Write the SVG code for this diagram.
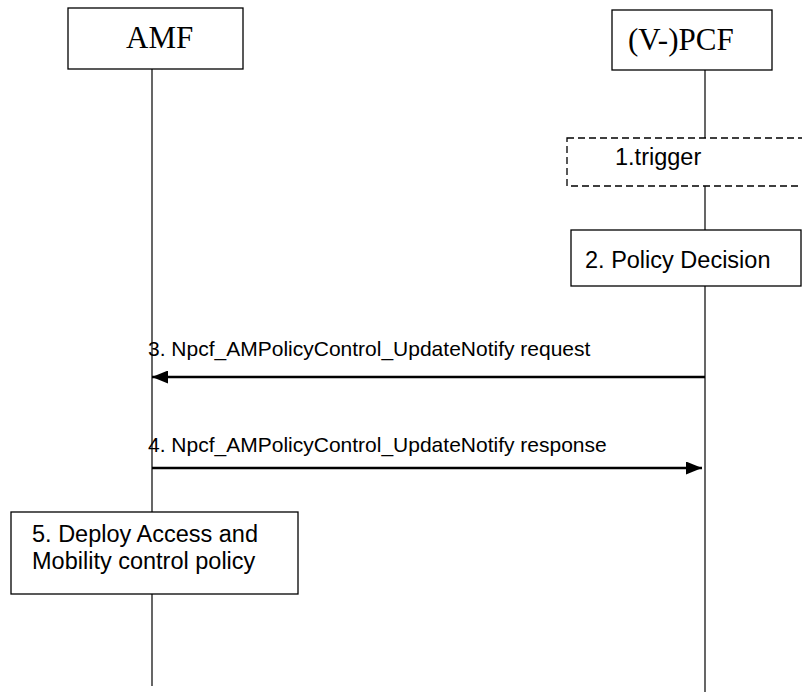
<svg xmlns="http://www.w3.org/2000/svg" width="802" height="693" viewBox="0 0 802 693">
<defs>
<style>
.box{fill:#fff;stroke:#000;stroke-width:1.3}
.dash{fill:#fff;stroke:#000;stroke-width:1.3;stroke-dasharray:7,4}
.life{stroke:#000;stroke-width:1.2;fill:none}
.msg{stroke:#000;stroke-width:2.4;fill:none}
.tt{font-family:"Liberation Serif",serif;font-size:31px;fill:#000}
.ta{font-family:"Liberation Sans",Arial,sans-serif;font-size:23.5px;fill:#000}
.tm{font-family:"Liberation Sans",Arial,sans-serif;font-size:21px;fill:#000}
</style>
<marker id="ah" viewBox="0 0 16 13" refX="16" refY="6.5" markerWidth="16" markerHeight="13" markerUnits="userSpaceOnUse" orient="auto">
<path d="M0,0 L16,6.5 L0,13 Z" fill="#000"/>
</marker>
</defs>
<rect width="802" height="693" fill="#fff"/>
<g id="lifelines">
<line class="life" x1="152" y1="69" x2="152" y2="686"/>
<line class="life" x1="705" y1="70" x2="705" y2="692"/>
</g>
<g id="amf">
<rect class="box" x="68" y="8" width="175" height="61"/>
<text class="tt" x="126" y="48">AMF</text>
</g>
<g id="pcf">
<rect class="box" x="612" y="10" width="160" height="60"/>
<text class="tt" x="628" y="50">(V-)PCF</text>
</g>
<g id="step1">
<rect class="dash" x="567" y="138" width="240" height="48"/>
<text class="ta" x="615" y="165">1.trigger</text>
</g>
<g id="step2">
<rect class="box" x="571" y="230" width="230" height="56"/>
<text class="ta" x="585" y="268">2. Policy Decision</text>
</g>
<g id="connectors">
<line class="msg" x1="705" y1="377" x2="152" y2="377" marker-end="url(#ah)"/>
<text class="tm" x="148" y="356">3. Npcf_AMPolicyControl_UpdateNotify request</text>
<line class="msg" x1="152" y1="468" x2="702" y2="468" marker-end="url(#ah)"/>
<text class="tm" x="148" y="452">4. Npcf_AMPolicyControl_UpdateNotify response</text>
</g>
<g id="step5">
<rect class="box" x="11" y="512" width="287" height="82"/>
<text class="ta" x="32" y="542">5. Deploy Access and</text>
<text class="ta" x="32" y="569">Mobility control policy</text>
</g>
</svg>
